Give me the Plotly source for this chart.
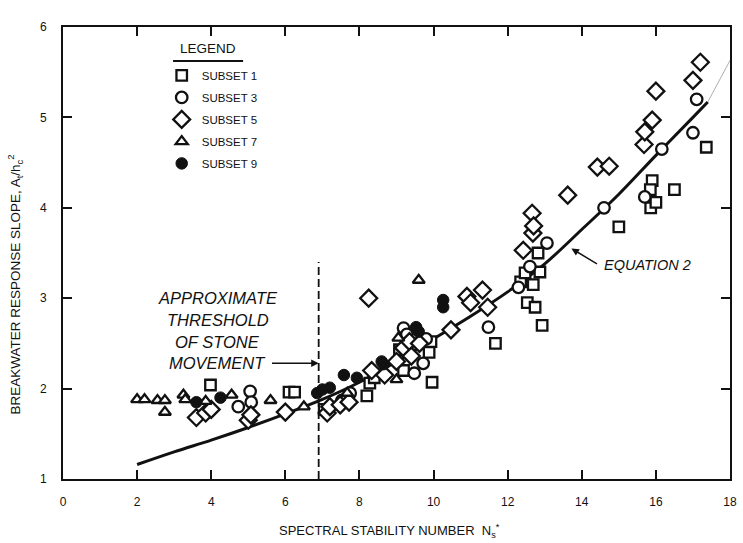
import plotly.graph_objects as go

# Spectral stability number Ns* (x) vs breakwater response slope At/hc^2 (y)
subset1_x = [3.98, 6.10, 6.25, 7.05, 8.20, 8.28, 8.40, 9.08, 9.19, 9.88, 9.93, 9.96,
             11.67, 12.35, 12.47, 12.53, 12.69, 12.74, 12.82, 12.87, 12.93,
             15.00, 15.86, 15.90, 15.85, 16.00, 16.50, 17.36]
subset1_y = [2.04, 1.96, 1.96, 1.77, 1.92, 2.06, 2.12, 2.43, 2.20, 2.40, 2.52, 2.07,
             2.50, 3.18, 3.28, 2.95, 3.15, 2.90, 3.50, 3.29, 2.70,
             3.79, 4.00, 4.30, 4.20, 4.06, 4.20, 4.67]

subset3_x = [4.73, 5.05, 5.08, 7.53, 7.75, 9.19, 9.28, 9.48, 9.72, 9.80,
             11.48, 12.29, 12.60, 13.06, 14.60, 15.70, 16.16, 17.00, 17.10]
subset3_y = [1.80, 1.97, 1.85, 1.87, 1.95, 2.67, 2.60, 2.17, 2.28, 2.55,
             2.68, 3.12, 3.35, 3.61, 4.00, 4.12, 4.65, 4.83, 5.20]

subset5_x = [3.60, 3.85, 4.00, 5.00, 5.07, 6.00, 7.13, 7.20, 7.48, 7.72, 8.25, 8.33,
             8.68, 9.00, 9.19, 9.35, 9.40, 9.62, 10.47, 10.90, 11.00, 11.32, 11.46,
             12.42, 12.66, 12.68, 12.70, 13.62, 14.42, 14.74, 15.68, 15.70, 15.90,
             16.00, 17.00, 17.20]
subset5_y = [1.68, 1.73, 1.77, 1.65, 1.71, 1.74, 1.73, 1.80, 1.82, 1.85, 3.00, 2.20,
             2.15, 2.30, 2.45, 2.52, 2.36, 2.50, 2.65, 3.02, 2.95, 3.09, 2.90,
             3.53, 3.94, 3.72, 3.80, 4.14, 4.45, 4.46, 4.70, 4.84, 4.97,
             5.29, 5.41, 5.61]

subset7_x = [2.00, 2.20, 2.55, 2.75, 2.75, 3.25, 3.30, 3.85, 4.55, 5.60, 6.50,
             7.67, 9.00, 9.05, 9.60]
subset7_y = [1.88, 1.88, 1.87, 1.87, 1.74, 1.93, 1.88, 1.86, 1.93, 1.87, 1.80,
             1.95, 2.10, 2.56, 3.20]

subset9_x = [3.60, 4.25, 6.86, 7.00, 7.20, 7.58, 7.93, 8.60, 8.65, 9.53, 9.60,
             10.26, 10.26]
subset9_y = [1.85, 1.90, 1.95, 1.99, 2.01, 2.15, 2.12, 2.30, 2.27, 2.68, 2.63,
             2.98, 2.90]

# Equation 2 fitted curve
eq2_x = [2, 3, 4, 5, 6, 7, 8, 9, 10, 11, 12, 13, 14, 15, 16, 17, 17.4]
eq2_y = [1.16, 1.30, 1.43, 1.57, 1.72, 1.88, 2.07, 2.30, 2.55, 2.80, 3.07, 3.38,
         3.76, 4.15, 4.58, 5.00, 5.17]
# faint extension of the curve past the data
ext_x = [17.4, 18.0]
ext_y = [5.17, 5.63]

threshold_ns = 6.9
threshold_y = [1.0, 3.4]

x_ticks = [0, 2, 4, 6, 8, 10, 12, 14, 16, 18]
y_ticks = [1, 2, 3, 4, 5, 6]

FONT = "Liberation Sans, Arial, Helvetica, sans-serif"
INK = "#111111"

fig = go.Figure()

fig.add_trace(go.Scatter(x=eq2_x, y=eq2_y, mode="lines", line=dict(color=INK, width=3, shape="spline"),
                         showlegend=False, hoverinfo="skip"))
fig.add_trace(go.Scatter(x=ext_x, y=ext_y, mode="lines", line=dict(color="#999999", width=0.8),
                         showlegend=False, hoverinfo="skip", cliponaxis=False))
fig.add_trace(go.Scatter(x=[threshold_ns, threshold_ns], y=threshold_y, mode="lines",
                         line=dict(color=INK, width=1.8, dash="8px,4px"),
                         showlegend=False, hoverinfo="skip"))

series = [
    ("SUBSET 1", subset1_x, subset1_y, "square", 10.5, True),
    ("SUBSET 3", subset3_x, subset3_y, "circle", 11.5, True),
    ("SUBSET 5", subset5_x, subset5_y, "diamond", 13, True),
    ("SUBSET 7", subset7_x, subset7_y, "triangle-up", 10.5, True),
    ("SUBSET 9", subset9_x, subset9_y, "circle", 11.5, False),
]
for i, (name, xs, ys, sym, size, hollow) in enumerate(series):
    if hollow:
        mk = dict(symbol=sym, size=size, color="white", line=dict(color=INK, width=2.3))
    else:
        mk = dict(symbol=sym, size=size, color=INK, line=dict(color=INK, width=1))
    fig.add_trace(go.Scatter(x=xs, y=ys, mode="markers", name=name, marker=mk,
                             legendgroup=f"g{i}", cliponaxis=False))

axis_common = dict(
    showline=True, linecolor=INK, linewidth=2, mirror="ticks",
    ticks="inside", ticklen=9, tickwidth=1.8, tickcolor=INK,
    showgrid=False, zeroline=False,
    tickfont=dict(family=FONT, size=12, color=INK),
)

fig.update_layout(
    width=743, height=543,
    margin=dict(l=63, r=6, t=27, b=64),
    paper_bgcolor="white", plot_bgcolor="white",
    font=dict(family=FONT, color=INK),
    xaxis=dict(range=[0, 18], tickvals=x_ticks, ticklabelstandoff=11, **axis_common),
    yaxis=dict(range=[1, 6], tickvals=y_ticks, ticklabelstandoff=12, **axis_common),
    legend=dict(x=0.148, y=0.925, xanchor="left", yanchor="top",
                font=dict(family=FONT, size=11.5, color=INK),
                bgcolor="rgba(0,0,0,0)", tracegroupgap=3, itemwidth=30),
    showlegend=True,
)

# legend heading with underline
fig.add_annotation(x=0.218, y=0.953, xref="paper", yref="paper", text="LEGEND", showarrow=False,
                   font=dict(family=FONT, size=13.5, color=INK), xanchor="center", yanchor="middle")
fig.add_shape(type="line", xref="paper", yref="paper", x0=0.165, x1=0.27, y0=0.925, y1=0.925,
              line=dict(color=INK, width=2))

# axis titles
fig.add_annotation(x=-0.072, y=0.43, xref="paper", yref="paper", textangle=-90, showarrow=False,
                   text="BREAKWATER RESPONSE SLOPE, A<sub>t</sub>/h<sub>c</sub><sup>2</sup>",
                   font=dict(family=FONT, size=13.5, color=INK), xanchor="center", yanchor="middle")
fig.add_annotation(x=0.49, y=-0.115, xref="paper", yref="paper", showarrow=False,
                   text="SPECTRAL STABILITY NUMBER  N<sub>s</sub><sup>*</sup>",
                   font=dict(family=FONT, size=13, color=INK), xanchor="center", yanchor="middle")

# threshold label
thr_lines = ["APPROXIMATE", "THRESHOLD", "OF STONE", "MOVEMENT"]
thr_y = [3.00, 2.76, 2.52, 2.28]
for txt, yy in zip(thr_lines, thr_y):
    fig.add_annotation(x=4.18, y=yy, text=f"<i>{txt}</i>", showarrow=False,
                       font=dict(family=FONT, size=16.5, color=INK), xanchor="center", yanchor="middle")
fig.add_annotation(x=threshold_ns, y=2.28, ax=5.6, ay=2.28, axref="x", ayref="y",
                   text="", showarrow=True, arrowhead=2, arrowsize=1, arrowwidth=1.5, arrowcolor=INK)

# equation label
fig.add_annotation(x=14.55, y=3.37, text="<i>EQUATION 2</i>", showarrow=False, xanchor="left",
                   font=dict(family=FONT, size=14.5, color=INK), yanchor="middle")
fig.add_annotation(x=13.72, y=3.55, ax=14.45, ay=3.37, axref="x", ayref="y",
                   text="", showarrow=True, arrowhead=2, arrowsize=1, arrowwidth=1.5, arrowcolor=INK)

fig.write_html("out.html")
